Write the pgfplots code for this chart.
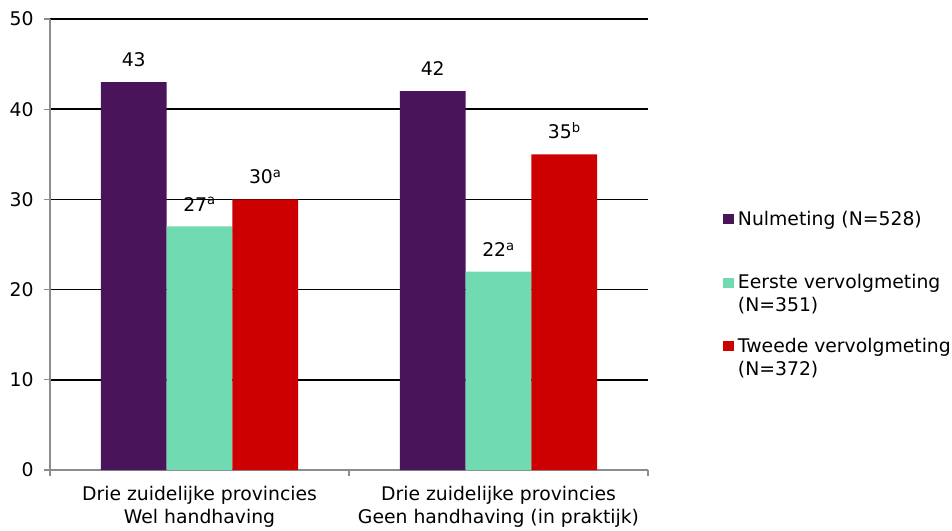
\documentclass[border=0pt]{standalone}
\usepackage{fontspec}
\setmainfont{DejaVu Sans}
\usepackage{pgfplots}
\pgfplotsset{compat=1.18}
\definecolor{cpurple}{HTML}{4A145A}
\definecolor{cgreen}{HTML}{70DBB0}
\definecolor{cred}{HTML}{CC0000}
\definecolor{caxis}{HTML}{8C8C8C}
\newcommand{\chartfont}{\fontsize{18.8}{23}\selectfont}
\begin{document}
\begin{tikzpicture}[x=1pt,y=1pt,font=\chartfont]
\path[use as bounding box] (0,0) rectangle (952,530);
\begin{axis}[
  at={(50pt,60pt)}, anchor=south west,
  scale only axis, width=598pt, height=451pt,
  xmin=-0.5, xmax=1.5, ymin=0, ymax=50,
  axis x line=bottom, axis y line=left,
  axis line style={-, draw=caxis, line width=1.3pt},
  ymajorgrids, grid style={black, line width=1.4pt},
  ytick={0,10,...,50},
  tick align=outside, major tick length=6pt,
  ytick style={draw=caxis, line width=1.3pt},
  yticklabel style={xshift=-7pt},
  /pgf/number format/assume math mode=true,
  xtick={0,1},
  xticklabels={{Drie zuidelijke provincies\\Wel handhaving},{Drie zuidelijke provincies\\Geen handhaving (in praktijk)}},
  xticklabel style={align=center, yshift=-7pt},
  xtick style={draw=none},
  extra x ticks={-0.5,0.5,1.5},
  extra x tick labels={},
  extra x tick style={xtick style={draw=caxis, line width=1.3pt}, grid=none},
  ybar=0pt,
  bar width=0.22,
  point meta=explicit symbolic,
  nodes near coords,
  every node near coord/.append style={anchor=south, inner sep=0pt, yshift=15pt, font=\chartfont, black},
  legend cell align=left,
  legend style={at={(1.125,0.5721)}, anchor=north west, draw=none, fill=none, inner sep=0pt, row sep=35.5pt, column sep=4pt, nodes={inner sep=0pt}, font=\chartfont},
  legend image code/.code={\path[draw=none, fill=none] (0pt,-14pt) rectangle (11pt,14pt); \fill[#1] (0pt,2pt) rectangle (11pt,12pt);},
]
\addplot[fill=cpurple, draw=none] coordinates {(0,43) [43] (1,42) [42]};
\addlegendentry{\smash{\begin{tabular}[t]{@{}l@{}}Nulmeting (N=528)\end{tabular}}}
\addplot[fill=cgreen, draw=none] coordinates {(0,27) [27\textsuperscript{a}] (1,22) [22\textsuperscript{a}]};
\addlegendentry{\smash{\begin{tabular}[t]{@{}l@{}}Eerste vervolgmeting\\(N=351)\end{tabular}}}
\addplot[fill=cred, draw=none] coordinates {(0,30) [30\textsuperscript{a}] (1,35) [35\textsuperscript{b}]};
\addlegendentry{\smash{\begin{tabular}[t]{@{}l@{}}Tweede vervolgmeting\\(N=372)\end{tabular}}}
\end{axis}
\end{tikzpicture}
\end{document}
